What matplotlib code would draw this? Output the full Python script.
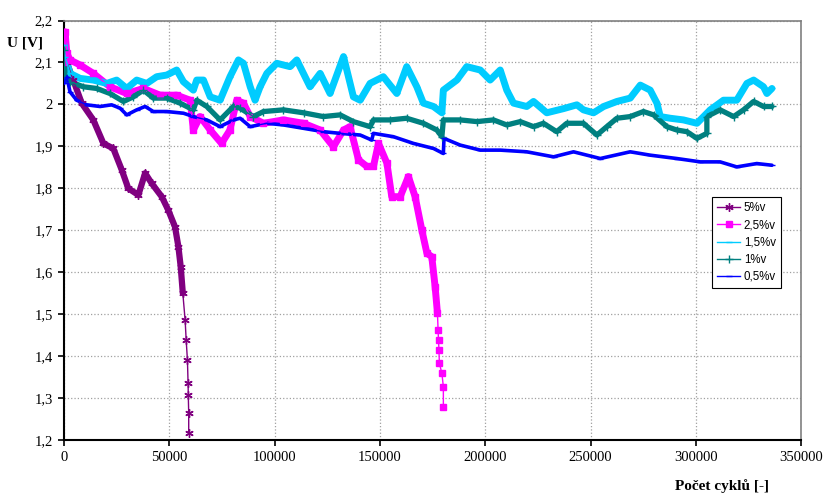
#! /usr/bin/env python3

import matplotlib
matplotlib.use("Agg")
import matplotlib.pyplot as plt
import matplotlib.ticker as mticker

plt.rcParams["font.family"] = ["Liberation Sans", "DejaVu Sans"]

# values
x_5 = [0, 1300, 4400, 8400, 13900, 18700, 23400, 27400, 30500, 35300, 38500,
       41600, 46400, 49500, 52700, 54300, 55400, 56400, 57500, 58000, 58600,
       58900, 59000, 59200, 59200]
u_5 = [2.12, 2.10, 2.058, 2.003, 1.963, 1.907, 1.895, 1.844, 1.80, 1.784, 1.836,
       1.812, 1.78, 1.748, 1.708, 1.661, 1.613, 1.55, 1.486, 1.438, 1.39,
       1.335, 1.307, 1.264, 1.216]

x_25 = [0, 500, 1300, 2850, 7600, 13900, 21800, 29800, 37700, 45600, 53500,
        59900, 61400, 64600, 69400, 74800, 78800, 82000, 85200, 88400, 94700,
        104200, 113700, 121600, 127900, 132700, 135800, 139800, 143800, 146900,
        149300, 153300, 155600, 159600, 163500, 166700, 169900, 172300, 174600,
        176200, 177300, 177600, 177800, 178000, 178200, 179400, 180100, 180100]
u_25 = [2.10, 2.173, 2.122, 2.106, 2.094, 2.074, 2.042, 2.026, 2.038, 2.022, 2.022,
        2.01, 1.939, 1.971, 1.939, 1.907, 1.939, 2.01, 2.003, 1.971, 1.955,
        1.963, 1.955, 1.939, 1.899, 1.939, 1.947, 1.868, 1.852, 1.852,
        1.907, 1.86, 1.78, 1.78, 1.828, 1.78, 1.70, 1.645, 1.637,
        1.565, 1.502, 1.462, 1.438, 1.415, 1.383, 1.359, 1.327, 1.279]

x_15 = [0, 500, 2850, 7600, 13900, 20300, 25000, 29800, 34500, 39300, 44000,
        48800, 53500, 56700, 61400, 63000, 66200, 69400, 74100, 78800, 82800,
        85200, 88400, 90700, 93100, 96300, 101000, 107300, 110500, 116800,
        121600, 126300, 132700, 137400, 140600, 145300, 151600, 158000, 162700,
        167500, 170600, 175400, 179400, 180100, 186500, 191200, 197600, 202300,
        207100, 210200, 213400, 219700, 222900, 229200, 237200, 243500, 246600,
        251400, 256200, 262500, 268800, 273600, 278300, 281500, 283100, 287800,
        294100, 300500, 306800, 313100, 319400, 324200, 327400, 332100, 333700,
        336100]
u_15 = [2.142, 2.114, 2.074, 2.062, 2.058, 2.05, 2.058, 2.038, 2.058, 2.05, 2.066,
        2.07, 2.082, 2.054, 2.034, 2.058, 2.058, 2.018, 2.01, 2.066, 2.106,
        2.098, 2.042, 2.01, 2.042, 2.074, 2.098, 2.09, 2.106, 2.042,
        2.074, 2.026, 2.114, 2.018, 2.01, 2.05, 2.066, 2.026, 2.09,
        2.042, 2.003, 1.995, 1.98, 2.034, 2.058, 2.09, 2.082, 2.058,
        2.082, 2.034, 2.003, 1.995, 2.007, 1.98, 1.99, 1.999, 1.987,
        1.98, 1.995, 2.007, 2.015, 2.046, 2.034, 2.003, 1.971, 1.967,
        1.963, 1.955, 1.987, 2.01, 2.01, 2.05, 2.058, 2.042, 2.026,
        2.038]

x_1 = [0, 500, 2850, 9200, 15500, 21800, 28200, 32900, 37700, 42400, 48800,
       55100, 61400, 63000, 67800, 74100, 80400, 83600, 89900, 94700, 104200,
       113700, 123100, 131100, 137400, 145300, 146900, 154800, 162700, 170600,
       177000, 179400, 180100, 188100, 196000, 203900, 210200, 216600, 222900,
       227600, 233900, 238700, 246600, 253000, 257700, 262500, 268800, 275100,
       279900, 286200, 290900, 295700, 300500, 305200, 305200, 311500, 317900,
       322600, 327400, 332100, 336100]
u_1 = [2.13, 2.066, 2.054, 2.042, 2.038, 2.026, 2.007, 2.018, 2.034, 2.015, 2.015,
       2.003, 1.987, 2.01, 1.995, 1.963, 1.995, 1.991, 1.971, 1.983, 1.987,
       1.98, 1.971, 1.975, 1.959, 1.947, 1.963, 1.963, 1.967, 1.955,
       1.939, 1.923, 1.963, 1.963, 1.959, 1.963, 1.951, 1.959, 1.947,
       1.955, 1.935, 1.955, 1.955, 1.927, 1.947, 1.967, 1.971, 1.983,
       1.975, 1.947, 1.939, 1.935, 1.919, 1.931, 1.971, 1.987, 1.971,
       1.987, 2.007, 1.995, 1.995]

x_05 = [0, 1300, 2850, 6000, 10800, 17100, 22600, 26600, 29800, 34500, 38500,
        42400, 48800, 56700, 61400, 67800, 74100, 80400, 83600, 88400, 96300,
        104200, 113700, 123100, 131100, 140600, 146100, 146900, 156400, 165900,
        175400, 180100, 180400, 188100, 197600, 207100, 219700, 232400, 241900,
        254600, 268800, 278300, 290900, 302100, 311500, 319400, 328900, 336100]
u_05 = [2.05, 2.066, 2.03, 2.01, 1.999, 1.995, 1.999, 1.991, 1.975, 1.987, 1.995,
        1.983, 1.983, 1.979, 1.971, 1.963, 1.947, 1.963, 1.967, 1.947, 1.955,
        1.951, 1.943, 1.935, 1.931, 1.927, 1.915, 1.931, 1.923, 1.907,
        1.895, 1.883, 1.919, 1.903, 1.891, 1.891, 1.887, 1.875, 1.887,
        1.871, 1.887, 1.879, 1.871, 1.863, 1.863, 1.851, 1.859, 1.855]

# label, x, y, colour, band width, marker, marker size, points in thick band
series = [
    ("5%v", x_5, u_5, "#800080", 4.5, (6, 2, 0), 6, 18),
    ("2,5%v", x_25, u_25, "#FF00FF", 5.0, "s", 5, 41),
    ("1,5%v", x_15, u_15, "#00CCFF", 5.0, "_", 5, None),
    ("1%v", x_1, u_1, "#008080", 3.8, "+", 6, None),
    ("0,5%v", x_05, u_05, "#0000FF", 2.6, "_", 5, None),
]

fig = plt.figure(figsize=(8.26, 4.94), dpi=100)
ax = fig.add_axes([0.0775, 0.1093, 0.8925, 0.8492])

for label, xs, us, clr, lw, mk, ms, n in series:
    # thick band (dense markers in the original)
    ax.plot(xs[:n], us[:n], "-", color=clr, lw=lw, solid_joinstyle="round",
            solid_capstyle="round", zorder=3)
    ax.plot(xs, us, "-", color=clr, lw=1.0, marker=mk, markersize=ms,
            markeredgewidth=1.0, label=label, zorder=4)

ax.set_xlim(0, 350000)
ax.set_ylim(1.2, 2.2)
ax.xaxis.set_major_locator(mticker.MultipleLocator(50000))
ax.yaxis.set_major_locator(mticker.MultipleLocator(0.1))
ax.yaxis.set_major_formatter(
    mticker.FuncFormatter(lambda v, p: f"{v:.1f}".replace(".0", "").replace(".", ","))
)
ax.xaxis.set_major_formatter(mticker.FuncFormatter(lambda v, p: f"{int(round(v))}"))

ax.grid(True, color="#a0a0a0", linestyle=":", linewidth=0.9)
ax.set_axisbelow(True)
for s in ["left", "bottom"]:
    ax.spines[s].set_color("black")
    ax.spines[s].set_linewidth(1.5)
for s in ["top", "right"]:
    ax.spines[s].set_color("#808080")
    ax.spines[s].set_linewidth(1.2)

ax.tick_params(axis="both", direction="out", length=4, width=1.2,
               labelsize=10.5, pad=4)
for t in ax.get_xticklabels() + ax.get_yticklabels():
    t.set_fontfamily("Liberation Serif")

fig.text(0.03, 1 - 43 / 494, "U [V]", fontfamily="Liberation Serif",
         fontweight="bold", fontsize=11, ha="center", va="center")
fig.text(722 / 826, 1 - 486 / 494, "Počet cyklů [-]", fontfamily="Liberation Serif",
         fontweight="bold", fontsize=11, ha="center", va="center")

leg = ax.legend(loc="lower left", bbox_to_anchor=(0.879, 0.362),
                prop={"family": "Liberation Sans", "size": 8.3},
                frameon=True, fancybox=False, handlelength=2.0,
                borderpad=0.45, labelspacing=0.45, handletextpad=0.3,
                borderaxespad=0, framealpha=1)
leg.get_frame().set_edgecolor("black")
leg.get_frame().set_linewidth(0.8)

fig.savefig("out.png", dpi=100)
